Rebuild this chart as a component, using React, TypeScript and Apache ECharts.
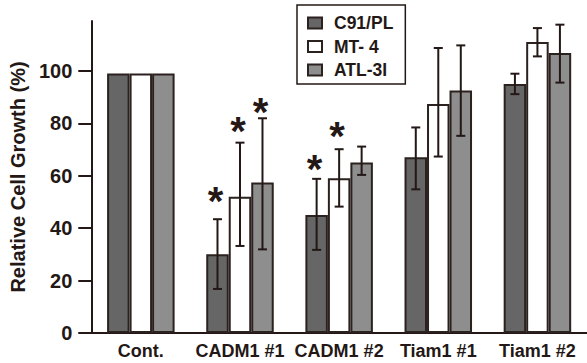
import React, { useEffect, useRef } from "react";
import * as echarts from "echarts";

const categories = ["Cont.", "CADM1 #1", "CADM1 #2", "Tiam1 #1", "Tiam1 #2"];
const seriesNames = ["C91/PL", "MT- 4", "ATL-3I"];
const seriesColors = ["#666666", "#ffffff", "#8e8e8e"];
const yTicks = [0, 20, 40, 60, 80, 100];

const c91Values = [99, 30, 45, 67, 95];
const mt4Values = [99, 52, 59, 87.3, 111];
const atlValues = [99, 57.4, 65, 92.5, 106.8];

const c91Low = [null, 16.8, 31.7, 54.8, 91.1];
const c91High = [null, 43.4, 58.8, 78.4, 98.9];
const mt4Low = [null, 33.2, 48.2, 67.3, 105.5];
const mt4High = [null, 72.6, 70.1, 108.7, 116.3];
const atlLow = [null, 31.9, 60.3, 75.2, 95.5];
const atlHigh = [null, 81.9, 71.1, 109.7, 117.6];

// y position (data units) of significance asterisks
const c91Star = [null, 54.6, 66.7, null, null];
const mt4Star = [null, 81.3, 79.4, null, null];
const atlStar = [null, 88.3, null, null, null];

const INK = "#231815";
const FONT = "'Liberation Sans', Arial, Helvetica, sans-serif";
const BAR_W = 22.5;

export default function App() {
  const ref = useRef<HTMLDivElement>(null);
  useEffect(() => {
    if (!ref.current) return;
    const chart = echarts.init(ref.current, null, { renderer: "svg" });
    const values = [c91Values, mt4Values, atlValues];
    const lows = [c91Low, mt4Low, atlLow];
    const highs = [c91High, mt4High, atlHigh];
    const stars = [c91Star, mt4Star, atlStar];

    const errData: any[] = [];
    const starData: any[] = [];
    for (let s = 0; s < 3; s++) {
      for (let c = 0; c < categories.length; c++) {
        if (lows[s][c] != null) errData.push([c, lows[s][c], highs[s][c], s]);
        if (stars[s][c] != null) starData.push([c, stars[s][c], s]);
      }
    }

    const barSeries = seriesNames.map((name, s) => ({
      name,
      type: "bar",
      data: values[s],
      barWidth: BAR_W,
      barGap: "0%",
      itemStyle: { color: seriesColors[s], borderColor: "#2b211f", borderWidth: 2 },
      z: 2,
    }));

    chart.setOption({
      animation: false,
      textStyle: { fontFamily: FONT },
      grid: { left: 91, right: 0, top: 21, bottom: 30, containLabel: false },
      legend: {
        data: seriesNames.map((n) => ({ name: n, icon: "rect" })),
        orient: "vertical",
        left: 297,
        top: 5,
        padding: [9, 12, 5, 10],
        itemWidth: 14,
        itemHeight: 11,
        itemGap: 5.5,
        borderColor: INK,
        borderWidth: 1.5,
        selectedMode: false,
        textStyle: { fontFamily: FONT, fontWeight: "bold", fontSize: 17.5, color: INK, padding: [0, 0, 0, 7] },
      },
      xAxis: {
        type: "category",
        data: categories,
        axisLine: { lineStyle: { color: INK, width: 2 } },
        axisTick: { show: false },
        axisLabel: { interval: 0, color: INK, fontSize: 18, fontWeight: "bold", fontFamily: FONT, margin: 9 },
      },
      yAxis: {
        type: "value",
        min: 0,
        max: 119,
        interval: 20,
        name: "Relative Cell Growth (%)",
        nameLocation: "middle",
        nameRotate: 90,
        nameGap: 57,
        nameTextStyle: { color: INK, fontSize: 20, fontWeight: "bold", fontFamily: FONT },
        splitLine: { show: false },
        axisLine: { show: true, lineStyle: { color: INK, width: 2 } },
        axisTick: { show: true, length: 13, customValues: yTicks, lineStyle: { color: INK, width: 2 } },
        axisLabel: { color: INK, fontSize: 20, fontWeight: "bold", fontFamily: FONT, margin: 19, customValues: yTicks },
      },
      series: [
        ...barSeries,
        {
          type: "custom",
          name: "err",
          z: 5,
          data: errData,
          renderItem: (params: any, api: any) => {
            const c = api.value(0);
            const s = api.value(3);
            const lo = api.coord([c, api.value(1)]);
            const hi = api.coord([c, api.value(2)]);
            const x = lo[0] + (s - 1) * BAR_W;
            const cap = 4.5;
            const st = { stroke: INK, lineWidth: 2 };
            return {
              type: "group",
              children: [
                { type: "line", shape: { x1: x, y1: lo[1], x2: x, y2: hi[1] }, style: st },
                { type: "line", shape: { x1: x - cap, y1: lo[1], x2: x + cap, y2: lo[1] }, style: st },
                { type: "line", shape: { x1: x - cap, y1: hi[1], x2: x + cap, y2: hi[1] }, style: st },
              ],
            };
          },
        },
        {
          type: "custom",
          name: "star",
          z: 6,
          data: starData,
          renderItem: (params: any, api: any) => {
            const c = api.value(0);
            const s = api.value(2);
            const p = api.coord([c, api.value(1)]);
            const x = p[0] + (s - 1) * BAR_W - 2;
            return {
              type: "text",
              x,
              y: p[1] + 11,
              style: {
                text: "*",
                fontSize: 40,
                fontWeight: "bold",
                fontFamily: FONT,
                fill: INK,
                align: "center",
                verticalAlign: "middle",
              },
            };
          },
        },
      ],
    });
    return () => chart.dispose();
  }, []);
  return <div ref={ref} style={{ width: 587, height: 363, position: "absolute", left: 0, top: 0, background: "#fff" }} />;
}
